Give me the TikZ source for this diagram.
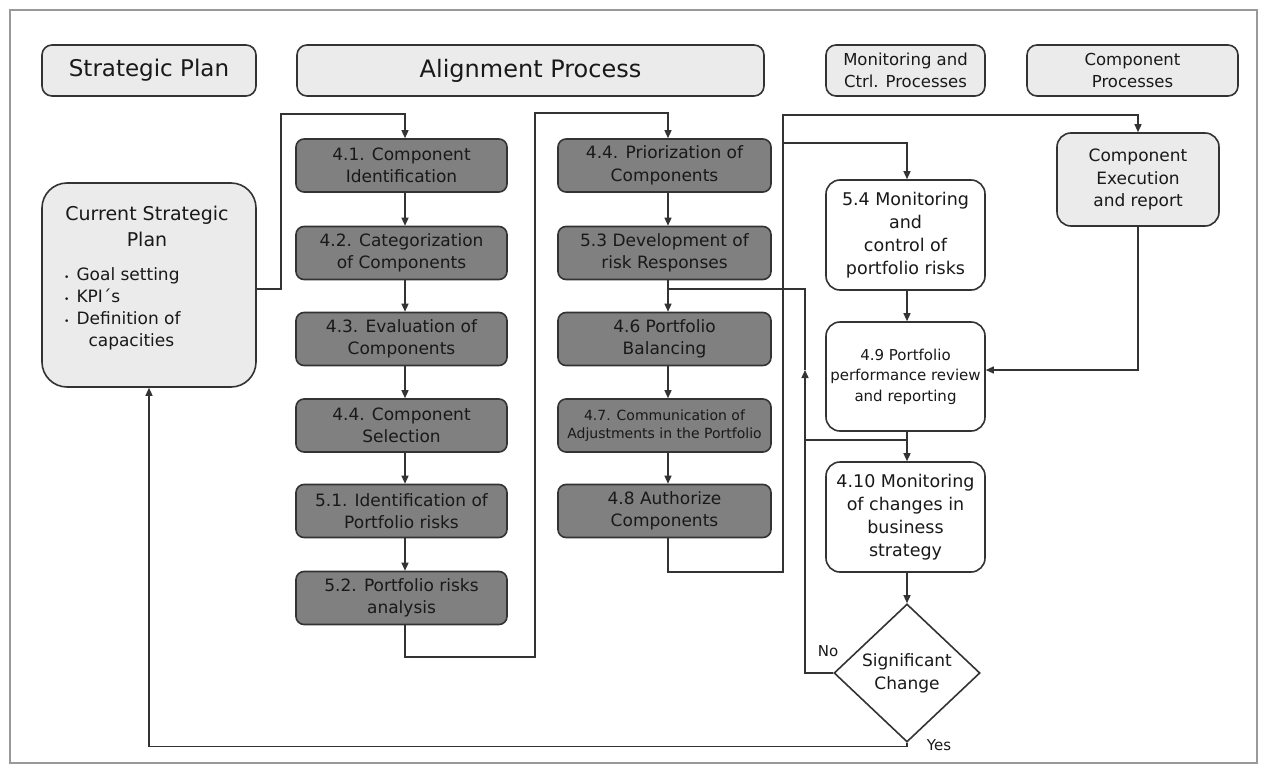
\documentclass[tikz,border=0pt]{standalone}
\usepackage{fontspec}
\setmainfont{DejaVu Sans}
\usetikzlibrary{arrows.meta,shapes.geometric}
\begin{document}
\begin{tikzpicture}[x=1pt,y=-1pt,
  box/.style={draw=black!80, line width=1.6pt, rounded corners=8pt, align=center, inner sep=2pt, text=black!90},
  hdr/.style={box, fill=black!8, minimum height=51pt, rounded corners=10pt},
  dark/.style={box, fill=black!50, minimum width=211pt, minimum height=53pt, font=\fontsize{17}{22.5}\selectfont},
  wbox/.style={box, fill=white, minimum width=159pt, rounded corners=14pt, font=\fontsize{17.5}{23}\selectfont},
  arr/.style={-{Triangle[length=8pt,width=7pt]}, line width=1.3pt, draw=black!80},
  ln/.style={line width=1.3pt, draw=black!80},
  lbl/.style={font=\fontsize{15}{18}\selectfont, text=black!90}]
\useasboundingbox (0,0) rectangle (1273,773);
\draw[black!40, line width=1.5pt] (10,10) rectangle (1257,763);

% headers
\node[hdr, minimum width=214pt, font=\fontsize{23}{27}\selectfont] (hsp) at (149,70.5) {Strategic Plan};
\node[hdr, minimum width=467pt, font=\fontsize{24}{28}\selectfont] (hap) at (530.5,70.5) {Alignment Process};
\node[hdr, minimum width=159pt, font=\fontsize{16.5}{22}\selectfont] (hmc) at (905.5,70.5) {Monitoring and\\Ctrl. Processes};
\node[hdr, minimum width=211pt, font=\fontsize{16.5}{22}\selectfont] (hcp) at (1132.5,70.5) {Component\\Processes};

% current strategic plan
\node[box, fill=black!8, minimum width=214pt, minimum height=204pt, rounded corners=25pt] (csp) at (149,285) {};
\node[align=center, font=\fontsize{19}{26}\selectfont, text=black!90] (cspt) at (147,226) {Current Strategic\\Plan};
\node[anchor=west, font=\fontsize{17}{22}\selectfont, text=black!90, inner sep=0pt] (cspb) at (64,309)
  {\begin{tabular}{@{}l@{\hspace{7pt}}l@{}}
   {\fontsize{9}{9}\selectfont •} & Goal setting\\
   {\fontsize{9}{9}\selectfont •} & KPI´s\\
   {\fontsize{9}{9}\selectfont •} & Definition of\\
    & \hspace{12pt}capacities
   \end{tabular}};

% column 1
\node[dark] (c41) at (401.5,165.5) {4.1. Component\\Identification};
\node[dark] (c42) at (401.5,253) {4.2. Categorization\\of Components};
\node[dark] (c43) at (401.5,339) {4.3. Evaluation of\\Components};
\node[dark] (c44) at (401.5,425.5) {4.4. Component\\Selection};
\node[dark] (c51) at (401.5,511) {5.1. Identification of\\Portfolio risks};
\node[dark] (c52) at (401.5,598) {5.2. Portfolio risks\\analysis};

% column 2
\node[dark, minimum width=213pt] (d44) at (664.5,165.5) {4.4. Priorization of\\Components};
\node[dark, minimum width=213pt] (d53) at (664.5,253) {5.3 Development of\\risk Responses};
\node[dark, minimum width=213pt] (d46) at (664.5,339) {4.6 Portfolio\\Balancing};
\node[dark, minimum width=213pt, font=\fontsize{14}{18}\selectfont] (d47) at (664.5,425.5) {4.7. Communication of\\Adjustments in the Portfolio};
\node[dark, minimum width=213pt] (d48) at (664.5,511) {4.8 Authorize\\Components};

% column 3
\node[wbox, minimum height=110pt] (m54) at (905.5,235) {5.4 Monitoring\\and\\control of\\portfolio risks};
\node[wbox, minimum height=109pt, font=\fontsize{15}{20.5}\selectfont] (m49) at (905.5,376.5) {4.9 Portfolio\\performance review\\and reporting};
\node[wbox, minimum height=110pt] (m410) at (905.5,517) {4.10 Monitoring\\of changes in\\business\\strategy};
\node[draw=black!80, line width=1.6pt, fill=white, shape=diamond, minimum width=146pt, minimum height=138pt, inner sep=0pt, align=center, font=\fontsize{17}{23}\selectfont, text=black!90] (dia) at (907,673) {Significant\\Change};

% component execution
\node[box, fill=black!8, minimum width=162pt, minimum height=93pt, rounded corners=14pt, font=\fontsize{17}{22.5}\selectfont] (ce) at (1138,179.5) {Component\\Execution\\and report};

% labels
\node[lbl] (no) at (828,651) {No};
\node[lbl] (yes) at (939,745) {Yes};

% helper coordinates
\coordinate (ax1) at (405,0);
\coordinate (ax2) at (668,0);
\coordinate (ax3) at (907,0);
\coordinate (y289) at (0,289);
\coordinate (y370) at (0,370);
\coordinate (j1) at (281,114);
\coordinate (j2) at (535,657);
\coordinate (j3) at (535,113);
\coordinate (j4) at (783,572);
\coordinate (j5) at (783,115);
\coordinate (j6) at (783,143);
\coordinate (n1) at (805,370);
\coordinate (n2) at (805,440);
\coordinate (n3) at (668,289);

% connectors column 1
\draw[arr] (csp.east |- y289) -| (j1) -| (c41.north -| ax1);
\draw[arr] (c41.south -| ax1) -- (c42.north -| ax1);
\draw[arr] (c42.south -| ax1) -- (c43.north -| ax1);
\draw[arr] (c43.south -| ax1) -- (c44.north -| ax1);
\draw[arr] (c44.south -| ax1) -- (c51.north -| ax1);
\draw[arr] (c51.south -| ax1) -- (c52.north -| ax1);
\draw[arr] (c52.south -| ax1) |- (j2) -- (j3) -| (d44.north -| ax2);

% column 2
\draw[arr] (d44.south -| ax2) -- (d53.north -| ax2);
\draw[arr] (d53.south -| ax2) -- (d46.north -| ax2);
\draw[arr] (d46.south -| ax2) -- (d47.north -| ax2);
\draw[arr] (d47.south -| ax2) -- (d48.north -| ax2);
\draw[arr] (d48.south -| ax2) |- (j4) -- (j5) -| (ce.north);
\draw[arr] (j6) -| (m54.north -| ax3);

% column 3
\draw[arr] (m54.south -| ax3) -- (m49.north -| ax3);
\draw[arr] (m49.south -| ax3) -- (m410.north -| ax3);
\draw[arr] (m410.south -| ax3) -- (dia.north);
\draw[arr] (ce.south) |- (m49.east |- y370);

% No loop
\draw[arr] (dia.west) -| (n1);
\draw[ln] (n1) |- (n3);
\draw[ln] (n2) -- (n2 -| ax3);

% Yes loop
\draw[arr] (dia.south) -- ++(0,4) -| (csp.south);
\end{tikzpicture}
\end{document}
